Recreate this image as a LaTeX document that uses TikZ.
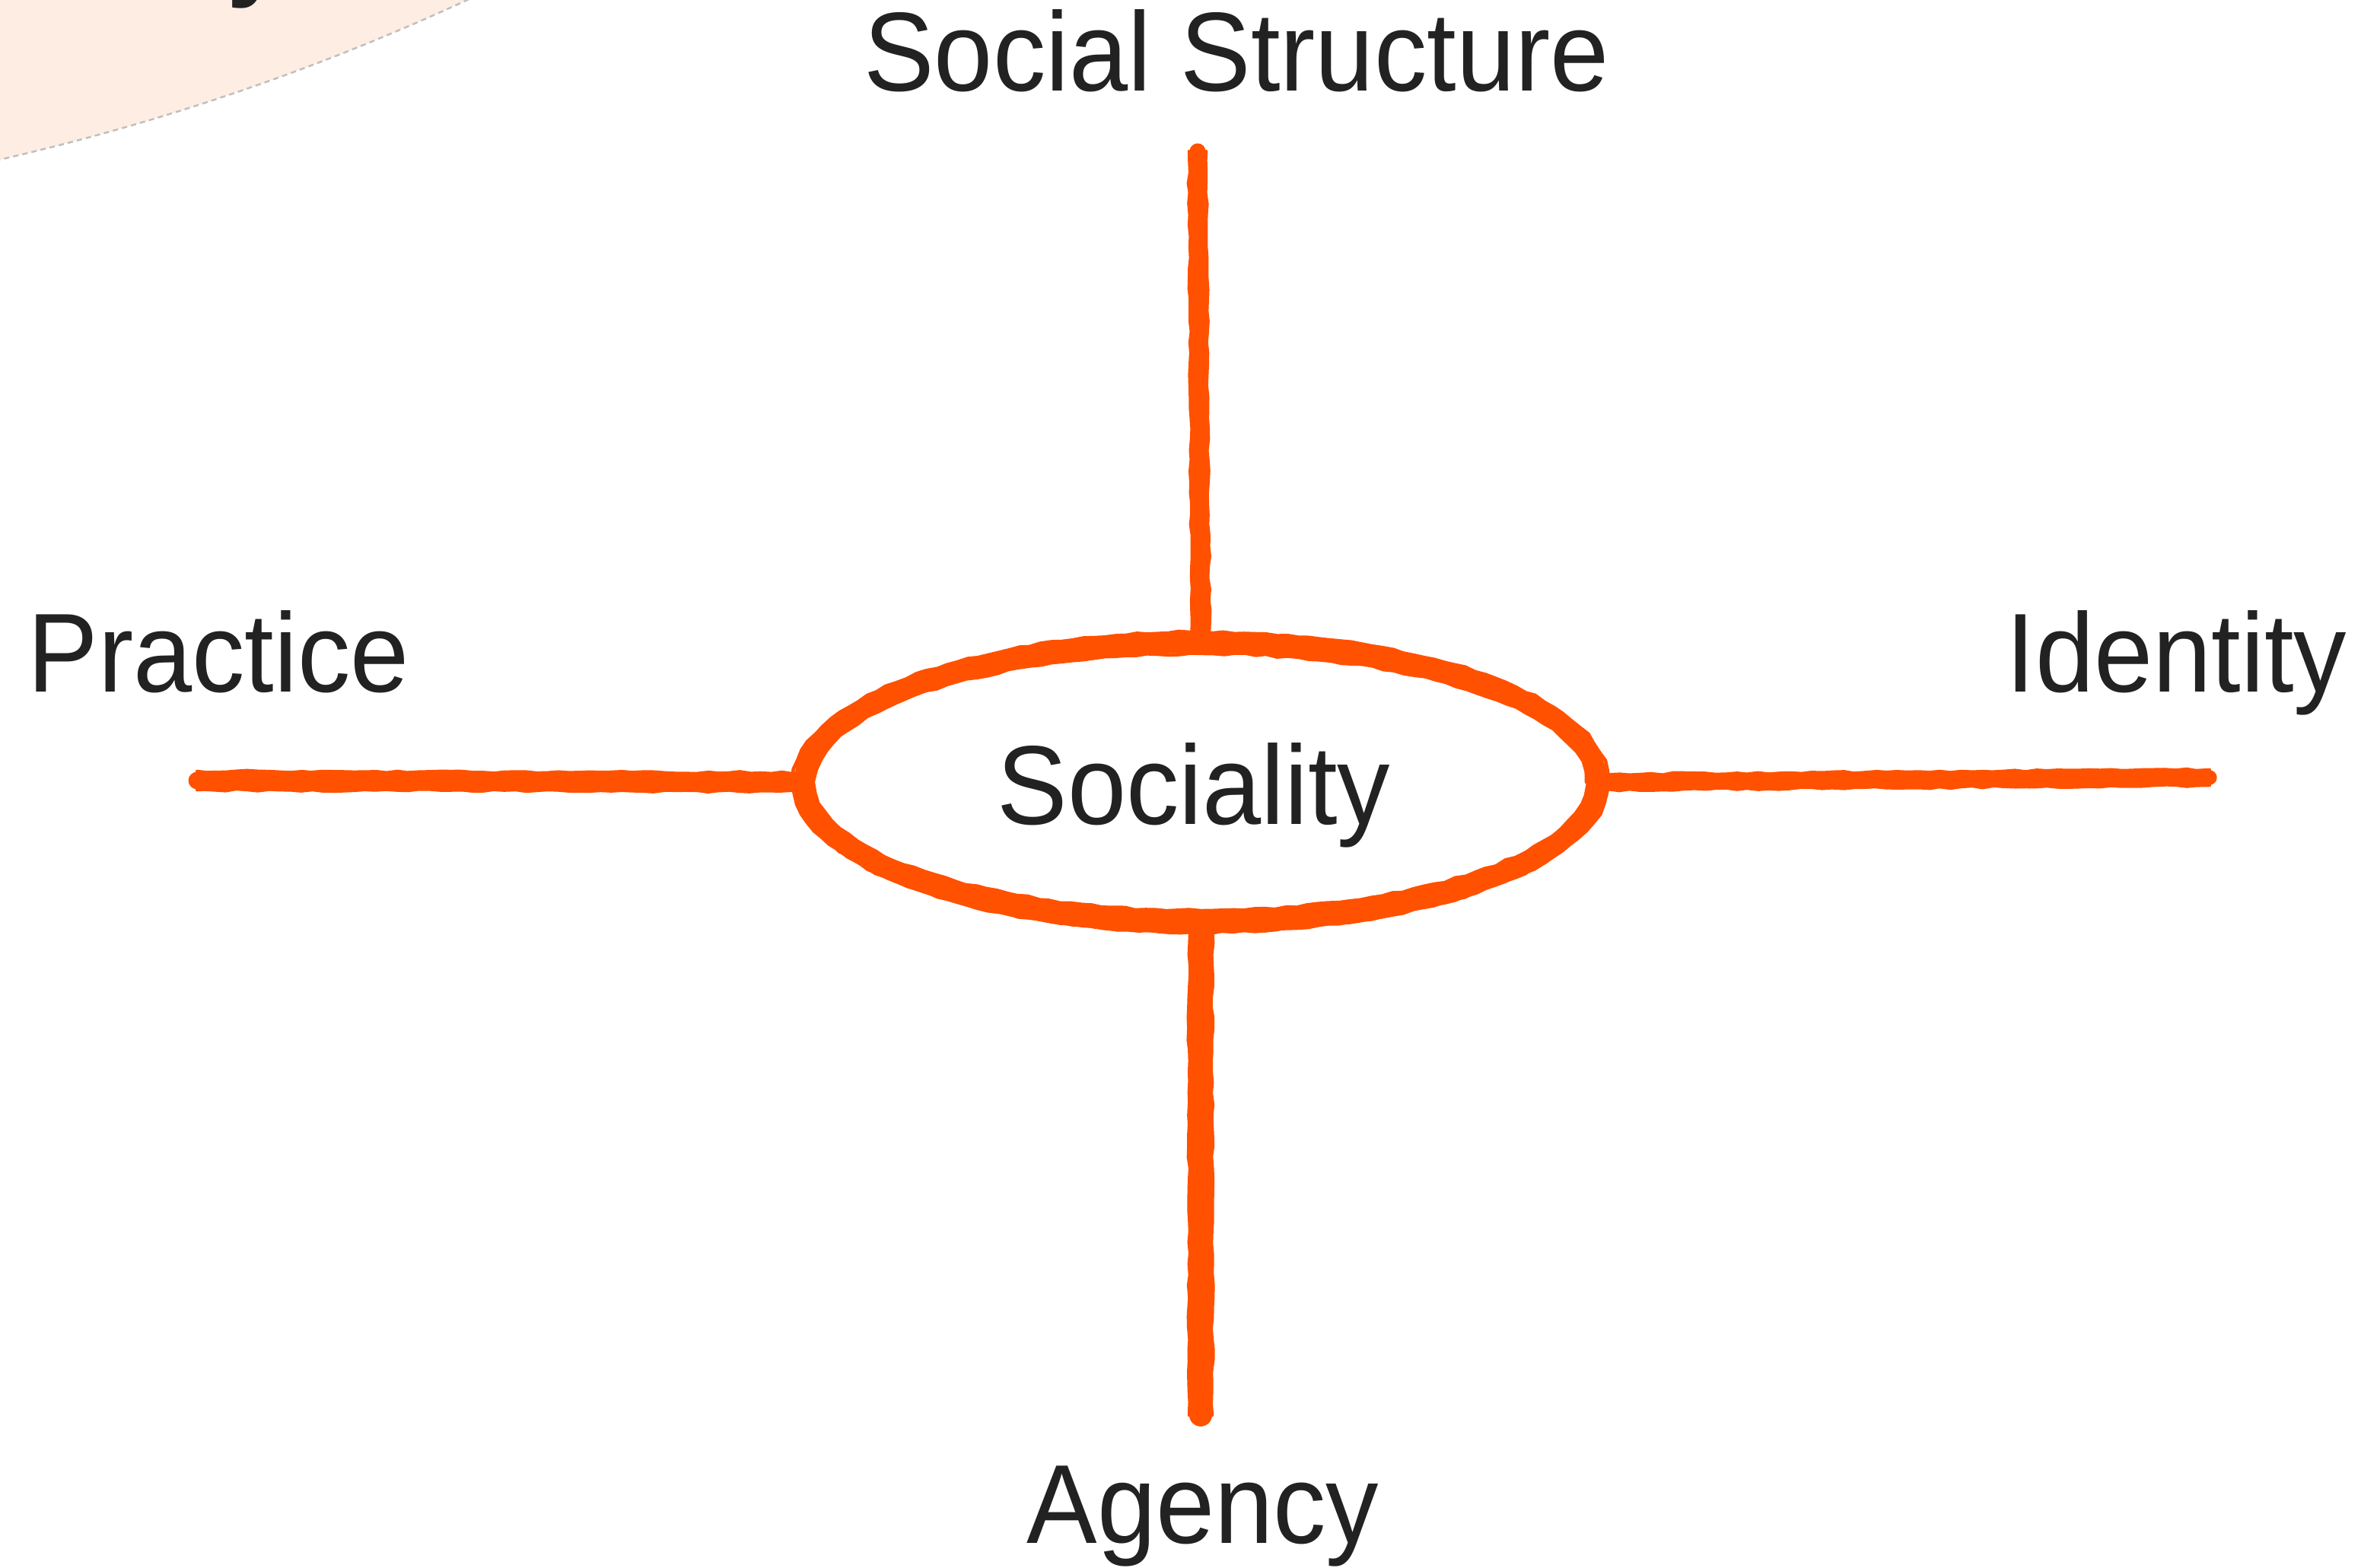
\documentclass[tikz,border=0pt]{standalone}
\usepackage{fontspec}
\setmainfont{Liberation Sans}[FakeStretch=0.94]
\usetikzlibrary{shapes.geometric,decorations.pathmorphing,calc}

\definecolor{brush}{RGB}{255,81,0}
\definecolor{peach}{RGB}{253,237,227}
\definecolor{ink}{RGB}{34,34,34}

\begin{document}
\begin{tikzpicture}[
    label/.style={text=ink, font=\fontsize{42}{50}\selectfont, inner sep=0, anchor=base},
    stroke/.style={draw=brush, line cap=round},
    rough/.style={draw=brush, line cap=round, line width=1.3pt, decorate,
        decoration={random steps, segment length=4pt, amplitude=0.4pt}},
  ]
    \pgfmathsetseed{7}

    % Page
    \useasboundingbox (0,0) rectangle (31.03,20.61);
    \clip (0,0) rectangle (31.03,20.61);

    % Corner disc
    \fill[peach] (-7.11,49.35) circle (31.64);
    \draw[black!25, dash pattern=on 2pt off 1.5pt, line width=0.7pt] (-7.11,49.35) circle (31.64);
    \node[label, font=\fontsize{42}{50}\selectfont\bfseries] (corner) at (3.37,20.80) {y};

    % Centre
    \node[ellipse, minimum width=10.42cm, minimum height=3.66cm, inner sep=0] (soc) at (15.78,10.33) {};
    \node[label] (soclabel) at (15.69,9.77) {Sociality};

    % Labels
    \node[label] (struct) at (16.25,19.41) {Social Structure};
    \node[label, anchor=base west] (practice) at (0.36,11.51) {Practice};
    \node[label, anchor=base east] (identity) at (30.85,11.51) {Identity};
    \node[label] (agency) at (15.81,0.32) {Agency};

    % Free ends of the strokes
    \coordinate (ssend) at (15.74,18.62);
    \coordinate (agend) at (15.78,2.01);
    \coordinate (prend) at (2.59,10.35);
    \coordinate (idend) at (29.04,10.39);

    % Ellipse
    \draw[stroke, line width=7.5pt] (soc.center) ellipse [x radius=5.21, y radius=1.83];
    \foreach \r in {-0.14,0.14}
      \draw[rough] (soc.center) ellipse [x radius=5.21+\r, y radius=1.83+\r];
    \draw[rough, line width=3pt] ($(soc.center)+(0,-0.08)$) ellipse [x radius=5.22, y radius=1.86];

    % Vertical strokes
    \foreach \a/\b/\w/\o in {soc.north/ssend/6pt/0.11, soc.south/agend/8.5pt/0.15} {
      \draw[stroke, line width=\w] (\a) -- (\b);
      \draw[rough] ($(\a)+(-\o,0)$) -- ($(\b)+(-\o,0)$);
      \draw[rough] ($(\a)+(\o,0)$) -- ($(\b)+(\o,0)$);
    }

    % Horizontal strokes
    \foreach \a/\b/\w/\o in {soc.west/prend/6.5pt/0.12, soc.east/idend/5.5pt/0.1} {
      \draw[stroke, line width=\w] (\a) -- (\b);
      \draw[rough] ($(\a)+(0,-\o)$) -- ($(\b)+(0,-\o)$);
      \draw[rough] ($(\a)+(0,\o)$) -- ($(\b)+(0,\o)$);
    }

\end{tikzpicture}
\end{document}
